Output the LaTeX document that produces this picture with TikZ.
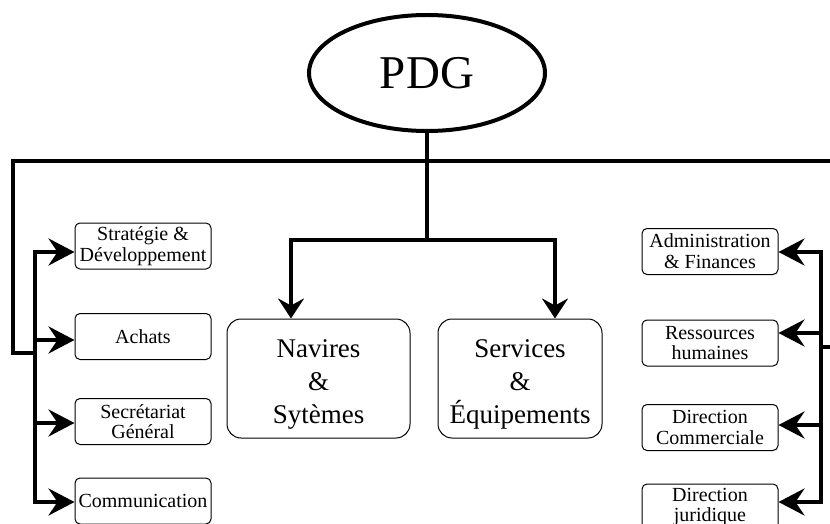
\documentclass[tikz,border=0pt]{standalone}
\usepackage{fontspec}
\setmainfont{Liberation Serif}
\usetikzlibrary{arrows.meta,shapes.geometric}
\newcommand{\bigtext}[1]{\raisebox{-5pt}[\height][\depth]{\begin{tabular}{@{}c@{}}#1\end{tabular}}}
\begin{document}
\begin{tikzpicture}[x=1pt,y=-1pt,
  bus/.style={line width=4pt,line cap=rect},
  sidearr/.style={line width=4pt,-{Stealth[length=26pt,width=27pt,inset=9pt]}},
  downarr/.style={line width=4pt,-{Stealth[length=20pt,width=26pt,inset=7pt]}},
  smallbox/.style={draw,line width=1pt,rounded corners=5pt,minimum width=136pt,minimum height=46pt,inner sep=0pt,align=center,font=\fontsize{20}{20.7}\selectfont},
  bigbox/.style={draw,line width=1pt,rounded corners=14pt,minimum height=119pt,inner sep=0pt,font=\fontsize{27}{33}\selectfont},
]
\useasboundingbox (0,0) rectangle (830,524);
\clip (0,0) rectangle (830,524);

% top node
\node[ellipse,draw,line width=4pt,minimum width=236pt,minimum height=116pt,inner sep=0pt,font=\fontsize{47}{50}\selectfont] (pdg) at (427,73) {PDG};

% central boxes
\node[bigbox,minimum width=183pt] (nav) at (318.5,378.5) {\bigtext{Navires\\\&\\Sytèmes}};
\node[bigbox,minimum width=164pt] (srv) at (520,378.5) {\bigtext{Services\\\&\\Équipements}};

% left boxes
\node[smallbox] (s1) at (143,246) {Stratégie \&\\Développement};
\node[smallbox] (s2) at (143,336.5) {Achats};
\node[smallbox] (s3) at (143,421.5) {Secrétariat\\Général};
\node[smallbox] (s4) at (143,501) {Communication};

% right boxes
\node[smallbox] (r1) at (710,251.5) {Administration\\\& Finances};
\node[smallbox] (r2) at (710,343) {Ressources\\humaines};
\node[smallbox] (r3) at (710,427.5) {Direction\\Commerciale};
\node[smallbox] (r4) at (710,507) {Direction\\juridique};

% coordinates
\coordinate (busL) at (13,161);
\coordinate (busR) at (850,161);
\coordinate (lcorner) at (13,353);
\coordinate (ljoin) at (35,353);
\coordinate (rcorner) at (850,347);
\coordinate (rjoin) at (821,347);
\coordinate (mid) at (427,240);
\coordinate (ml) at (291,240);
\coordinate (mr) at (555,240);
\coordinate (lb1) at (35,252);
\coordinate (lb2) at (35,340);
\coordinate (lb3) at (35,423);
\coordinate (lb4) at (35,502);
\coordinate (rb1) at (821,252);
\coordinate (rb2) at (819,333);
\coordinate (rb3) at (819,425);
\coordinate (rb4) at (821,502);

% main bus
\draw[line width=4pt] (ljoin) -- (lcorner) -- (busL) -- (busR) -- (rcorner) -- (rjoin);
\draw[line width=4pt] (pdg.south) -- (mid);
\draw[bus] (ml) -- (mr);
\draw[downarr] (ml) -- (ml |- nav.north);
\draw[downarr] (mr) -- (mr |- srv.north);

% left bus
\draw[bus] (lb1) -- (lb4);
\draw[sidearr] (lb1) -- (lb1 -| s1.west);
\draw[sidearr] (lb2) -- (lb2 -| s2.west);
\draw[sidearr] (lb3) -- (lb3 -| s3.west);
\draw[sidearr] (lb4) -- (lb4 -| s4.west);

% right bus
\draw[bus] (rb1) -- (rb4);
\draw[sidearr] (rb1) -- (rb1 -| r1.east);
\draw[sidearr] (rb2) -- (rb2 -| r2.east);
\draw[sidearr] (rb3) -- (rb3 -| r3.east);
\draw[sidearr] (rb4) -- (rb4 -| r4.east);
\end{tikzpicture}
\end{document}
